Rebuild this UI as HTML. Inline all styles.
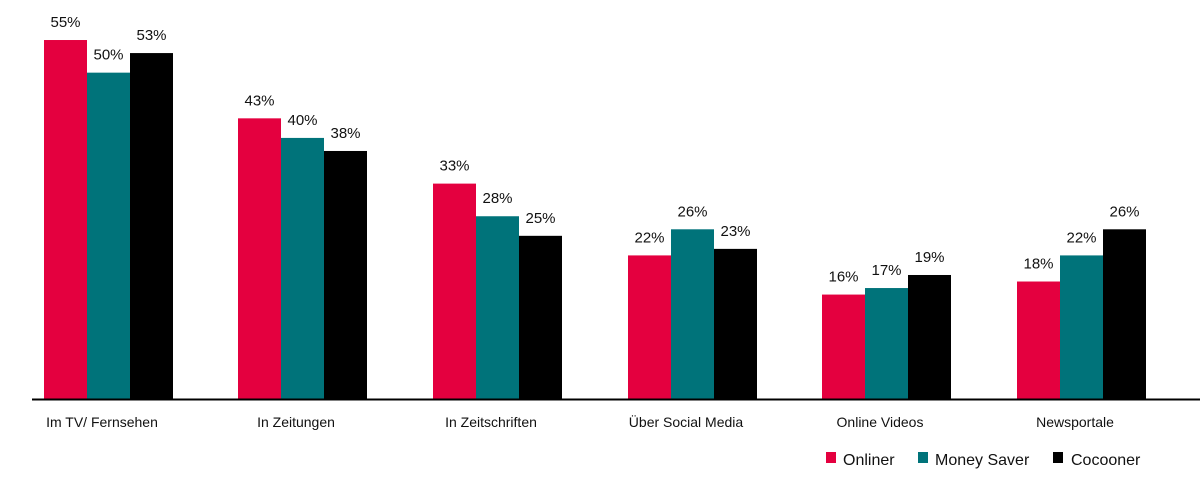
<!DOCTYPE html>
<html><head><meta charset="utf-8"><style>body{margin:0;background:#fff}svg{display:block}text{font-family:"Liberation Sans",sans-serif;fill:#111}</style></head><body>
<svg width="1200" height="484" viewBox="0 0 1200 484">
<g id="bars"></g>
<line x1="32" y1="399.5" x2="1200" y2="399.5" stroke="#000" stroke-width="2"/>
<g font-size="14" text-anchor="middle" id="lab"></g>
<g font-size="16">
<rect x="826" y="452" width="10" height="11" fill="#e4003f"/><text x="843" y="465">Onliner</text>
<rect x="918" y="452" width="10" height="11" fill="#00737a"/><text x="935" y="465">Money Saver</text>
<rect x="1053" y="452" width="10" height="11" fill="#000"/><text x="1071" y="465">Cocooner</text>
</g>
</svg>
<script>
var d=[["Im TV/ Fernsehen",55,50,53],["In Zeitungen",43,40,38],["In Zeitschriften",33,28,25],["Über Social Media",22,26,23],["Online Videos",16,17,19],["Newsportale",18,22,26]];
var starts=[44,238,433,628,822,1017],cols=["#e4003f","#00737a","#000"],ns="http://www.w3.org/2000/svg";
var b=document.getElementById("bars");
d.forEach(function(g,i){for(var j=0;j<3;j++){var v=g[j+1],x=starts[i]+j*43,h=v*6.527,y=399-h;
var r=document.createElementNS(ns,"rect");r.setAttribute("x",x);r.setAttribute("y",y);r.setAttribute("width",43);r.setAttribute("height",h);r.setAttribute("fill",cols[j]);b.appendChild(r);
var t=document.createElementNS(ns,"text");t.setAttribute("x",x+21.5);t.setAttribute("y",y-13);t.setAttribute("font-size","15");t.setAttribute("text-anchor","middle");t.textContent=v+"%";b.appendChild(t);}
var l=document.createElementNS(ns,"text");l.setAttribute("x",starts[i]+58);l.setAttribute("y",427);l.textContent=g[0];document.getElementById("lab").appendChild(l);});
</script>
</body></html>
